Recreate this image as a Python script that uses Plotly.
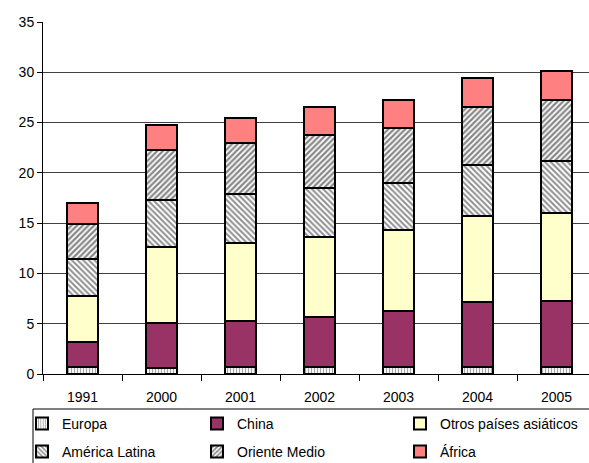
import plotly.graph_objects as go

years = ["1991", "2000", "2001", "2002", "2003", "2004", "2005"]
europa = [0.65, 0.6, 0.7, 0.65, 0.65, 0.65, 0.65]
china = [2.5, 4.5, 4.6, 5.0, 5.6, 6.5, 6.6]
otros = [4.6, 7.5, 7.7, 8.0, 8.1, 8.6, 8.75]
america_latina = [3.65, 4.75, 4.9, 4.85, 4.65, 5.0, 5.15]
oriente_medio = [3.5, 4.9, 5.1, 5.3, 5.5, 5.8, 6.1]
africa = [2.1, 2.5, 2.5, 2.75, 2.7, 2.85, 2.9]

W, H = 589, 463
ML, MT, MB = 43, 22, 89
PW = W - ML
PH = H - MT - MB

def px_x(x):
    return (x - ML) / PW

def px_y(y):
    return (H - MB - y) / PH

series = [
    ("Europa", europa, dict(color="white", pattern=dict(shape="|", fgcolor="#505050", bgcolor="white", size=3, solidity=0.4))),
    ("China", china, dict(color="#993366")),
    ("Otros países asiáticos", otros, dict(color="#FFFFCC")),
    ("América Latina", america_latina, dict(color="white", pattern=dict(shape="\\", fgcolor="#202020", bgcolor="white", size=4, solidity=0.5))),
    ("Oriente Medio", oriente_medio, dict(color="white", pattern=dict(shape="/", fgcolor="#101010", bgcolor="white", size=4, solidity=0.55))),
    ("África", africa, dict(color="#FF8080")),
]

legend_pos = [
    (36, 424), (211, 424), (414, 424),
    (36, 452), (211, 452), (414, 452),
]

fig = go.Figure()
font = dict(family="Liberation Sans, Arial, sans-serif", size=14, color="black")
layout_legends = {}
for i, (name, vals, marker) in enumerate(series):
    lname = "legend" if i == 0 else f"legend{i+1}"
    m = dict(marker)
    m["line"] = dict(color="black", width=2)
    fig.add_trace(go.Bar(x=years, y=vals, name=name, marker=m, legend=lname))
    lx, ly = legend_pos[i]
    layout_legends[lname] = dict(
        x=px_x(lx - 14), y=px_y(ly), xanchor="left", yanchor="middle",
        bgcolor="rgba(0,0,0,0)", borderwidth=0, font=font, itemwidth=30,
    )

fig.update_layout(
    width=W, height=H,
    margin=dict(l=ML, r=0, t=MT, b=MB, autoexpand=False),
    barmode="stack", bargap=0.61,
    plot_bgcolor="white", paper_bgcolor="white",
    font=font,
    showlegend=True,
    xaxis=dict(
        range=[-0.5, -0.5 + PW / 79.0], showgrid=False, showline=True, linecolor="black", linewidth=1,
        ticks="outside", tickson="boundaries", ticklen=6, tickcolor="black", tickfont=font,
        ticklabelstandoff=10, automargin=False,
    ),
    yaxis=dict(
        range=[0, 35], dtick=5, showgrid=True, gridcolor="#404040", gridwidth=1,
        showline=True, linecolor="black", linewidth=1, ticks="outside", ticklen=5,
        tickcolor="black", tickfont=font, zeroline=False, automargin=False,
    ),
    shapes=[dict(type="rect", xref="paper", yref="paper",
                 x0=px_x(33), x1=px_x(600), y0=px_y(409), y1=px_y(475),
                 line=dict(color="black", width=1))],
    **layout_legends,
)

fig.write_html("out.html")
